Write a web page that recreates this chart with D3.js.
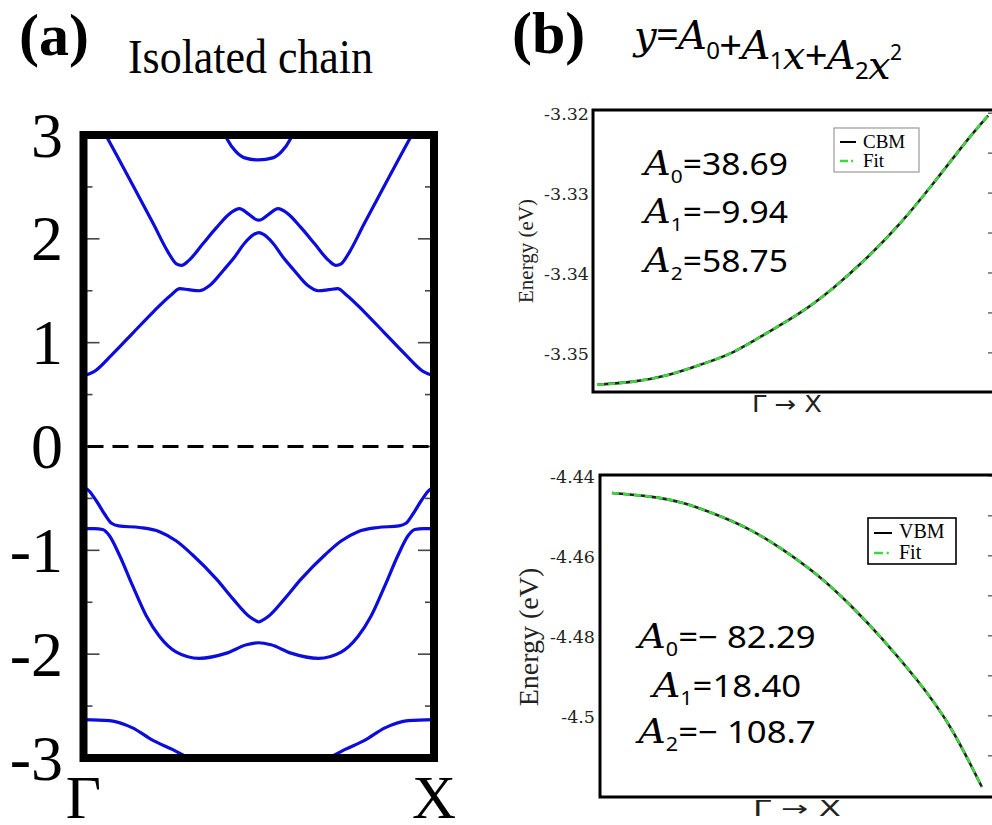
<!DOCTYPE html>
<html>
<head>
<meta charset="utf-8">
<script src="https://cdn.jsdelivr.net/npm/d3@7"></script>
<style>
  html, body { margin: 0; padding: 0; background: #fff; }
  svg { display: block; }
</style>
</head>
<body>
<svg id="fig" width="992" height="825"></svg>
<script>
// ---------- Band structure of the isolated chain (k from Γ=0 to X=1, energy in eV) ----------
const bandC1 = [[0,0.68],[0.03,0.72],[0.08,0.88],[0.14,1.09],[0.2,1.30],[0.25,1.46],[0.275,1.52],[0.3,1.51],[0.33,1.50],[0.36,1.55],[0.40,1.70],[0.43,1.82],[0.46,1.96],[0.485,2.04],[0.5,2.06],[0.515,2.04],[0.54,1.96],[0.57,1.82],[0.60,1.70],[0.64,1.55],[0.67,1.50],[0.70,1.51],[0.725,1.52],[0.75,1.46],[0.8,1.30],[0.86,1.09],[0.92,0.88],[0.97,0.72],[1,0.68]];
const bandC2 = [[0,3.40],[0.07,2.96],[0.14,2.52],[0.2,2.14],[0.24,1.88],[0.265,1.76],[0.28,1.745],[0.30,1.79],[0.34,1.95],[0.38,2.11],[0.42,2.25],[0.445,2.29],[0.47,2.24],[0.49,2.19],[0.5,2.18],[0.51,2.19],[0.53,2.24],[0.555,2.29],[0.58,2.25],[0.62,2.11],[0.66,1.95],[0.70,1.79],[0.72,1.745],[0.735,1.76],[0.76,1.88],[0.8,2.14],[0.86,2.52],[0.93,2.96],[1,3.40]];
const bandC3 = [[0.39,3.12],[0.41,2.96],[0.435,2.84],[0.46,2.78],[0.5,2.76],[0.54,2.78],[0.565,2.84],[0.59,2.96],[0.61,3.12]];
const bandV1 = [[0,-0.40],[0.01,-0.41],[0.036,-0.52],[0.06,-0.65],[0.08,-0.74],[0.10,-0.765],[0.16,-0.78],[0.217,-0.82],[0.265,-0.91],[0.31,-1.04],[0.38,-1.28],[0.427,-1.47],[0.474,-1.64],[0.49,-1.675],[0.5,-1.69],[0.51,-1.675],[0.526,-1.64],[0.573,-1.47],[0.62,-1.28],[0.69,-1.04],[0.735,-0.91],[0.783,-0.82],[0.84,-0.78],[0.90,-0.765],[0.92,-0.74],[0.94,-0.65],[0.964,-0.52],[0.99,-0.41],[1,-0.40]];
const bandV2 = [[0,-0.79],[0.03,-0.79],[0.055,-0.80],[0.074,-0.86],[0.103,-1.05],[0.14,-1.34],[0.179,-1.63],[0.217,-1.83],[0.265,-1.98],[0.33,-2.04],[0.408,-1.99],[0.465,-1.91],[0.5,-1.89],[0.535,-1.91],[0.592,-1.99],[0.67,-2.04],[0.735,-1.98],[0.783,-1.83],[0.821,-1.63],[0.86,-1.34],[0.897,-1.05],[0.926,-0.86],[0.945,-0.80],[0.97,-0.79],[1,-0.79]];
const bandV3 = [[0,-2.63],[0.074,-2.64],[0.14,-2.71],[0.198,-2.83],[0.255,-2.92],[0.3,-3.0],[0.36,-3.07],[0.43,-3.1],[0.5,-3.11],[0.57,-3.1],[0.64,-3.07],[0.7,-3.0],[0.745,-2.92],[0.802,-2.83],[0.86,-2.71],[0.926,-2.64],[1,-2.63]];
const bands = [bandC1, bandC2, bandC3, bandV1, bandV2, bandV3];
const bandTickValues = [-3, -2, -1, 0, 1, 2, 3];
const bandTickLabels = ["-3", "-2", "-1", "0", "1", "2", "3"];
const kLabels = ["Γ", "X"];

// ---------- Band-edge dispersion along Γ → X and the quadratic fits ----------
const cbmK = [0.01, 0.099, 0.183, 0.265, 0.347, 0.431, 0.512, 0.594, 0.678, 0.760, 0.842, 0.926, 0.978];
const cbmE = [-3.3540, -3.3536, -3.3528, -3.3515, -3.3499, -3.3475, -3.3450, -3.3419, -3.3381, -3.3338, -3.3288, -3.3234, -3.3203];
const cbmFitE = [-3.3540, -3.3536, -3.3528, -3.3515, -3.3499, -3.3475, -3.3450, -3.3419, -3.3381, -3.3338, -3.3288, -3.3234, -3.3203];
const vbmK = [0.03, 0.126, 0.209, 0.295, 0.378, 0.461, 0.547, 0.630, 0.713, 0.798, 0.882, 0.962];
const vbmE = [-4.4443, -4.4452, -4.4468, -4.4498, -4.4535, -4.4585, -4.4648, -4.4723, -4.4810, -4.4910, -4.5028, -4.5178];
const vbmFitE = [-4.4443, -4.4452, -4.4468, -4.4498, -4.4535, -4.4585, -4.4648, -4.4723, -4.4810, -4.4910, -4.5028, -4.5178];
const cbmTickValues = [-3.35, -3.34, -3.33, -3.32];
const cbmTickLabels = ["-3.35", "-3.34", "-3.33", "-3.32"];
const vbmTickValues = [-4.5, -4.48, -4.46, -4.44];
const vbmTickLabels = ["-4.5", "-4.48", "-4.46", "-4.44"];
const cbmCoefs = ["38.69", "−9.94", "58.75"];
const vbmCoefs = ["− 82.29", "18.40", "− 108.7"];
const coefSubs = ["0", "1", "2"];

const svg = d3.select("#fig");
const SERIF = "'Liberation Serif', 'Times New Roman', serif";
const MATHIT = "'DejaVu Serif', serif";
const SANS = "'Noto Sans', 'DejaVu Sans', sans-serif";
const BLUE = "#0c0cdc";
const GREEN = "#3cd83c";

svg.append("rect").attr("width", 992).attr("height", 825).attr("fill", "#fff");

// widen a text horizontally by a factor, keeping its anchor
function stretch(sel, factor) {
  const w = sel.node().getComputedTextLength();
  sel.attr("textLength", w * factor).attr("lengthAdjust", "spacingAndGlyphs");
}

// ================= Panel (a) =================
const xa = d3.scaleLinear().domain([0, 1]).range([83.5, 434]);
const ya = d3.scaleLinear().domain([-3, 3]).range([758, 135]);

svg.append("text").attr("x", 19).attr("y", 55)
  .attr("font-family", SERIF).attr("font-weight", "bold").attr("font-size", 60)
  .text("(a)");
svg.append("text").attr("x", 128).attr("y", 73)
  .attr("font-family", SERIF).attr("font-size", 48)
  .attr("textLength", 245).attr("lengthAdjust", "spacingAndGlyphs")
  .text("Isolated chain");

svg.append("clipPath").attr("id", "clipA").append("rect")
  .attr("x", xa(0)).attr("y", ya(3)).attr("width", xa(1) - xa(0)).attr("height", ya(-3) - ya(3));

// minor/major ticks pointing inward on both sides
const aTicks = d3.range(-2.5, 3.0, 0.5);
const gTicksA = svg.append("g").attr("stroke", "#444").attr("stroke-width", 1.6);
aTicks.forEach(v => {
  const major = Math.abs(v - Math.round(v)) < 1e-6;
  const len = major ? 16 : 9;
  gTicksA.append("line").attr("x1", xa(0)).attr("x2", xa(0) + len).attr("y1", ya(v)).attr("y2", ya(v));
  gTicksA.append("line").attr("x1", xa(1)).attr("x2", xa(1) - len).attr("y1", ya(v)).attr("y2", ya(v));
});

// Fermi level
svg.append("line").attr("x1", xa(0)).attr("x2", xa(1)).attr("y1", ya(0)).attr("y2", ya(0))
  .attr("stroke", "#000").attr("stroke-width", 3.2).attr("stroke-dasharray", "16,9")
  .attr("stroke-dashoffset", -4);

const bandLine = d3.line().x(d => xa(d[0])).y(d => ya(d[1])).curve(d3.curveMonotoneX);
svg.append("g").attr("clip-path", "url(#clipA)")
  .selectAll("path").data(bands).join("path")
  .attr("d", bandLine).attr("fill", "none").attr("stroke", BLUE).attr("stroke-width", 3.2);

svg.append("rect").attr("x", xa(0)).attr("y", ya(3)).attr("width", xa(1) - xa(0)).attr("height", ya(-3) - ya(3))
  .attr("fill", "none").attr("stroke", "#000").attr("stroke-width", 8);

const yAxisA = d3.axisLeft(ya).tickValues(bandTickValues).tickFormat((d, i) => bandTickLabels[i]).tickSize(0).tickPadding(0);
const gAxA = svg.append("g").attr("transform", "translate(63,0)").call(yAxisA);
gAxA.select(".domain").remove();
gAxA.selectAll("text").attr("font-family", SERIF).attr("font-size", 64).attr("fill", "#000")
  .attr("dy", "0.33em").attr("x", 0);

svg.selectAll(".klab").data(kLabels).join("text").attr("class", "klab")
  .attr("x", (d, i) => xa(i)).attr("y", 818).attr("text-anchor", "middle")
  .attr("font-family", SERIF).attr("font-size", 61).text(d => d);

// ================= Panel (b) =================
svg.append("text").attr("x", 512).attr("y", 53)
  .attr("font-family", SERIF).attr("font-weight", "bold").attr("font-size", 60)
  .text("(b)");

// fit formula y = A0 + A1 x + A2 x^2
const f = svg.append("text").attr("x", 634).attr("y", 49).attr("font-size", 40);
const it = (t) => f.append("tspan").attr("font-family", MATHIT).attr("font-style", "italic").text(t);
const up = (t) => f.append("tspan").attr("font-family", SANS).text(t);
const sub = (t) => f.append("tspan").attr("font-family", SANS).attr("font-size", 24).attr("dy", 10).text(t);
const back = () => f.append("tspan").attr("dy", -10).text("");
it("y"); up("="); it("A"); sub("0"); back(); up("+"); it("A"); sub("1"); back(); it("x"); up("+"); it("A"); sub("2"); back(); it("x");
f.append("tspan").attr("font-family", SANS).attr("font-size", 21).attr("dy", -19).text("2");
f.attr("textLength", 268).attr("lengthAdjust", "spacing");

function coefRows(g, cx, baselines, values, fs) {
  values.forEach((v, i) => {
    const t = g.append("text").attr("x", cx).attr("y", baselines[i]).attr("text-anchor", "middle").attr("font-size", fs);
    t.append("tspan").attr("font-family", MATHIT).attr("font-style", "italic").attr("font-size", fs * 1.1).text("A");
    t.append("tspan").attr("font-family", SANS).attr("font-size", fs * 0.62).attr("dy", fs * 0.27).text(coefSubs[i]);
    t.append("tspan").attr("font-family", SANS).attr("dy", -fs * 0.27).text("=" + v);
    stretch(t, 1.12);
  });
}

function fitPanel(opt) {
  const x = d3.scaleLinear().domain([0, 1]).range([opt.left, opt.right]);
  const y = d3.scaleLinear().domain(opt.yDomain).range([opt.bottom, opt.top]);
  const g = svg.append("g");

  // inward ticks on the right edge
  d3.range(opt.minorFrom, opt.minorTo + 1e-9, opt.minorStep).forEach(v => {
    g.append("line").attr("x1", opt.right).attr("x2", opt.right - 9).attr("y1", y(v)).attr("y2", y(v))
      .attr("stroke", "#555").attr("stroke-width", 1.3);
  });

  const data = opt.k.map((k, i) => [k, opt.e[i]]);
  const fit = opt.k.map((k, i) => [k, opt.fit[i]]);
  const line = d3.line().x(d => x(d[0])).y(d => y(d[1])).curve(d3.curveNatural);
  g.append("path").attr("d", line(data)).attr("fill", "none").attr("stroke", "#222").attr("stroke-width", 2.6);
  g.append("path").attr("d", line(fit)).attr("fill", "none").attr("stroke", GREEN).attr("stroke-width", 2.6)
    .attr("stroke-dasharray", "7,4");

  g.append("rect").attr("x", opt.left).attr("y", opt.top).attr("width", opt.right - opt.left).attr("height", opt.bottom - opt.top)
    .attr("fill", "none").attr("stroke", "#000").attr("stroke-width", 3);

  const ax = d3.axisLeft(y).tickValues(opt.tickValues).tickFormat((d, i) => opt.tickLabels[i]).tickSize(0).tickPadding(0);
  const ga = g.append("g").attr("transform", `translate(${opt.labelRight},0)`).call(ax);
  ga.select(".domain").remove();
  ga.selectAll("text").attr("font-family", "'DejaVu Serif', serif").attr("font-size", 17.5).attr("fill", "#222")
    .attr("dy", "0.36em").attr("x", 0);

  g.append("text").attr("transform", `translate(${opt.ylabX},${opt.ylabY}) rotate(-90)`)
    .attr("text-anchor", "middle").attr("font-family", SERIF).attr("font-size", opt.ylabSize).attr("fill", "#222")
    .text("Energy (eV)");

  g.append("text")
    .attr("x", opt.xlabX).attr("y", opt.xlabY).attr("text-anchor", "middle")
    .attr("font-family", "'DejaVu Sans', sans-serif").attr("font-size", opt.xlabSize).attr("fill", "#222")
    .attr("textLength", opt.xlabW).attr("lengthAdjust", "spacingAndGlyphs")
    .text("Γ → X");

  coefRows(g, opt.coefX, opt.coefY, opt.coefs, opt.coefSize);

  // legend
  const L = opt.legend;
  g.append("rect").attr("x", L.x).attr("y", L.y).attr("width", L.w).attr("height", L.h)
    .attr("fill", "#fff").attr("stroke", L.stroke).attr("stroke-width", L.sw);
  g.append("line").attr("x1", L.x + 6).attr("x2", L.x + 6 + L.len).attr("y1", L.y1).attr("y2", L.y1)
    .attr("stroke", "#000").attr("stroke-width", 2);
  g.append("line").attr("x1", L.x + 6).attr("x2", L.x + 6 + L.len).attr("y1", L.y2).attr("y2", L.y2)
    .attr("stroke", GREEN).attr("stroke-width", 2.4).attr("stroke-dasharray", `${L.len * 0.5},${L.len * 0.2},${L.len * 0.12},100`);
  g.append("text").attr("x", L.tx).attr("y", L.b1).attr("font-family", SERIF).attr("font-size", L.fs).text(L.name);
  g.append("text").attr("x", L.tx).attr("y", L.b2).attr("font-family", SERIF).attr("font-size", L.fs).text("Fit");
}

fitPanel({
  id: "cbm", left: 593, right: 997, top: 110, bottom: 392,
  yDomain: [-3.3549, -3.3196], minorFrom: -3.35, minorTo: -3.32, minorStep: 0.005,
  k: cbmK, e: cbmE, fit: cbmFitE,
  tickValues: cbmTickValues, tickLabels: cbmTickLabels, labelRight: 589,
  ylabX: 533, ylabY: 251, ylabSize: 21,
  xlabX: 787, xlabY: 412, xlabSize: 23, xlabW: 70,
  coefX: 716, coefY: [175, 223, 272], coefs: cbmCoefs, coefSize: 30,
  legend: { x: 834, y: 128, w: 85, h: 44, stroke: "#999", sw: 1.2, len: 16, y1: 142, y2: 161,
            tx: 863, b1: 148, b2: 167, fs: 19, name: "CBM" }
});

fitPanel({
  id: "vbm", left: 600, right: 997, top: 475, bottom: 797,
  yDomain: [-4.5203, -4.4398], minorFrom: -4.51, minorTo: -4.44, minorStep: 0.01,
  k: vbmK, e: vbmE, fit: vbmFitE,
  tickValues: vbmTickValues, tickLabels: vbmTickLabels, labelRight: 595,
  ylabX: 538, ylabY: 637, ylabSize: 28,
  xlabX: 797, xlabY: 816, xlabSize: 21, xlabW: 88,
  coefX: 727, coefY: [648, 697, 743], coefs: vbmCoefs, coefSize: 31,
  legend: { x: 868, y: 518, w: 88, h: 46, stroke: "#000", sw: 1.6, len: 18, y1: 533, y2: 553,
            tx: 899, b1: 538, b2: 559, fs: 20, name: "VBM" }
});
</script>
</body>
</html>
